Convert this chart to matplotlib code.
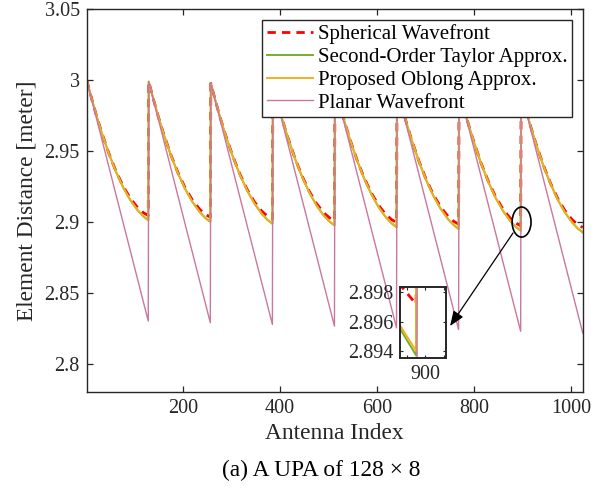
import matplotlib
matplotlib.use("Agg")
import matplotlib.pyplot as plt
from matplotlib.patches import Ellipse
import numpy as np

plt.rcParams['font.family'] = ['Liberation Serif', 'DejaVu Serif']

# 128 x 8 UPA: each column has 128 elements, 8 columns in total
n_rows = 128
offsets = [0, 10, 20, 30, 45, 60, 75, 90, 105, 117, 127]   # element offset inside a column

# distance to the user [m] at the offsets above, one row per column
spherical = [
    [3.0000, 2.9871, 2.9750, 2.9639, 2.9489, 2.9360, 2.9252, 2.9165, 2.9100, 2.9064, 2.9044],
    [2.9988, 2.9859, 2.9738, 2.9627, 2.9477, 2.9348, 2.9240, 2.9153, 2.9088, 2.9052, 2.9032],
    [2.9976, 2.9847, 2.9726, 2.9615, 2.9465, 2.9336, 2.9227, 2.9140, 2.9075, 2.9039, 2.9019],
    [2.9964, 2.9835, 2.9714, 2.9603, 2.9453, 2.9324, 2.9215, 2.9128, 2.9063, 2.9027, 2.9007],
    [2.9953, 2.9823, 2.9702, 2.9591, 2.9441, 2.9312, 2.9203, 2.9116, 2.9051, 2.9015, 2.8995],
    [2.9941, 2.9812, 2.9691, 2.9579, 2.9429, 2.9300, 2.9191, 2.9104, 2.9039, 2.9003, 2.8983],
    [2.9930, 2.9800, 2.9679, 2.9568, 2.9417, 2.9288, 2.9179, 2.9092, 2.9027, 2.8991, 2.8972],
    [2.9918, 2.9789, 2.9668, 2.9556, 2.9406, 2.9276, 2.9167, 2.9080, 2.9015, 2.8979, 2.8960],
]
taylor = [
    [3.0000, 2.9871, 2.9750, 2.9638, 2.9487, 2.9356, 2.9244, 2.9152, 2.9081, 2.9037, 2.9011],
    [2.9988, 2.9859, 2.9738, 2.9626, 2.9475, 2.9343, 2.9232, 2.9140, 2.9068, 2.9025, 2.8999],
    [2.9976, 2.9847, 2.9726, 2.9614, 2.9463, 2.9331, 2.9220, 2.9128, 2.9056, 2.9012, 2.8986],
    [2.9964, 2.9835, 2.9714, 2.9602, 2.9451, 2.9319, 2.9207, 2.9115, 2.9043, 2.9000, 2.8974],
    [2.9953, 2.9823, 2.9702, 2.9590, 2.9439, 2.9307, 2.9195, 2.9103, 2.9031, 2.8988, 2.8961],
    [2.9941, 2.9811, 2.9691, 2.9578, 2.9427, 2.9295, 2.9183, 2.9091, 2.9019, 2.8976, 2.8949],
    [2.9930, 2.9800, 2.9679, 2.9567, 2.9415, 2.9283, 2.9171, 2.9079, 2.9007, 2.8963, 2.8937],
    [2.9918, 2.9788, 2.9667, 2.9555, 2.9403, 2.9272, 2.9159, 2.9067, 2.8995, 2.8951, 2.8925],
]
oblong = [
    [3.0000, 2.9871, 2.9750, 2.9638, 2.9487, 2.9357, 2.9245, 2.9153, 2.9083, 2.9039, 2.9014],
    [2.9988, 2.9859, 2.9738, 2.9626, 2.9475, 2.9344, 2.9233, 2.9141, 2.9070, 2.9027, 2.9002],
    [2.9976, 2.9847, 2.9726, 2.9614, 2.9463, 2.9332, 2.9221, 2.9129, 2.9058, 2.9014, 2.8989],
    [2.9964, 2.9835, 2.9714, 2.9602, 2.9451, 2.9320, 2.9208, 2.9116, 2.9045, 2.9002, 2.8977],
    [2.9953, 2.9823, 2.9702, 2.9590, 2.9439, 2.9308, 2.9196, 2.9104, 2.9033, 2.8990, 2.8964],
    [2.9941, 2.9811, 2.9691, 2.9578, 2.9427, 2.9296, 2.9184, 2.9092, 2.9021, 2.8978, 2.8952],
    [2.9930, 2.9800, 2.9679, 2.9567, 2.9415, 2.9284, 2.9172, 2.9080, 2.9009, 2.8965, 2.8940],
    [2.9918, 2.9788, 2.9667, 2.9555, 2.9403, 2.9273, 2.9160, 2.9068, 2.8997, 2.8953, 2.8928],
]
# planar wavefront is linear inside a column: first and last element only
planar_first = [3.0000, 2.9988, 2.9976, 2.9964, 2.9952, 2.9940, 2.9928, 2.9916]
planar_last = [2.8300, 2.8288, 2.8276, 2.8264, 2.8252, 2.8240, 2.8228, 2.8216]

labels = ['Spherical Wavefront', 'Second-Order Taylor Approx.',
          'Proposed Oblong Approx.', 'Planar Wavefront']

n_cols = len(spherical)
idx = np.concatenate([c * n_rows + np.array(offsets) + 1 for c in range(n_cols)])
idx_pl = np.concatenate([[c * n_rows + 1, c * n_rows + n_rows] for c in range(n_cols)])
y_sph = np.concatenate(spherical)
y_tay = np.concatenate(taylor)
y_obl = np.concatenate(oblong)
y_pl = np.ravel(np.column_stack([planar_first, planar_last]))

red = '#ff0000'
green = '#77ac30'
orange = '#edb120'
pink = '#c8789e'
axcol = '#262626'


def draw(ax):
    ax.plot(idx, y_sph, color=red, lw=2.0, dashes=(3.0, 2.2), label=labels[0])
    ax.plot(idx, y_tay, color=green, lw=1.4, label=labels[1])
    ax.plot(idx, y_obl, color=orange, lw=1.4, label=labels[2])
    ax.plot(idx_pl, y_pl, color=pink, lw=1.0, label=labels[3])


fig = plt.figure(figsize=(6.07, 4.92), dpi=100)
ax = fig.add_axes([0.1428, 0.2033, 0.8172, 0.7784])
draw(ax)

ax.set_xlim(1, 1024)
ax.set_ylim(2.78, 3.05)
ax.set_xticks([200, 400, 600, 800, 1000])
ax.set_yticks([2.8, 2.85, 2.9, 2.95, 3.0, 3.05])
ax.set_yticklabels(['2.8', '2.85', '2.9', '2.95', '3', '3.05'])
ax.tick_params(direction='in', length=4, width=0.9, top=True, right=True,
               labelsize=14.5, colors=axcol, pad=5)
for s in ax.spines.values():
    s.set_color(axcol)
    s.set_linewidth(1.0)
ax.set_xlabel('Antenna Index', fontsize=16.8, color=axcol, labelpad=4)
ax.set_ylabel('Element Distance [meter]', fontsize=16.8, color=axcol, labelpad=5)

leg = ax.legend(loc='upper right', bbox_to_anchor=(0.9785, 0.9713), borderaxespad=0,
                fontsize=15, fancybox=False, edgecolor='#262626', framealpha=1,
                handlelength=2.2, handletextpad=0.25, labelspacing=0.15,
                borderpad=0.22)
leg.get_frame().set_linewidth(1.0)

# zoom marker and arrow
ax.add_patch(Ellipse((897.9, 2.8998), 39, 0.0212, fill=False, ec='black', lw=1.2, zorder=5))
ax.annotate('', xy=(750.4, 2.8265), xytext=(880.3, 2.8921),
            arrowprops=dict(arrowstyle='-|>,head_length=0.9,head_width=0.35',
                            color='black', lw=0.9, shrinkA=0, shrinkB=0))

# inset around index 900
axin = fig.add_axes([0.659, 0.2717, 0.0758, 0.1443])
draw(axin)
axin.set_xlim(889, 909)
axin.set_ylim(2.8935, 2.89835)
axin.set_xticks([892, 900, 908])
axin.set_xticklabels(['', '900', ''])
axin.set_yticks([2.894, 2.896, 2.898])
axin.set_yticklabels(['2.894', '2.896', '2.898'])
axin.tick_params(direction='in', length=2.5, width=0.8, top=True, right=True,
                 labelsize=14.5, colors=axcol, pad=5)
for s in axin.spines.values():
    s.set_color(axcol)
    s.set_linewidth(1.4)

fig.text(0.530, 0.033, '(a) A UPA of 128 \u00d7 8', ha='center', va='baseline',
         fontsize=16.8, color='black')

fig.savefig('out.png', dpi=100)
